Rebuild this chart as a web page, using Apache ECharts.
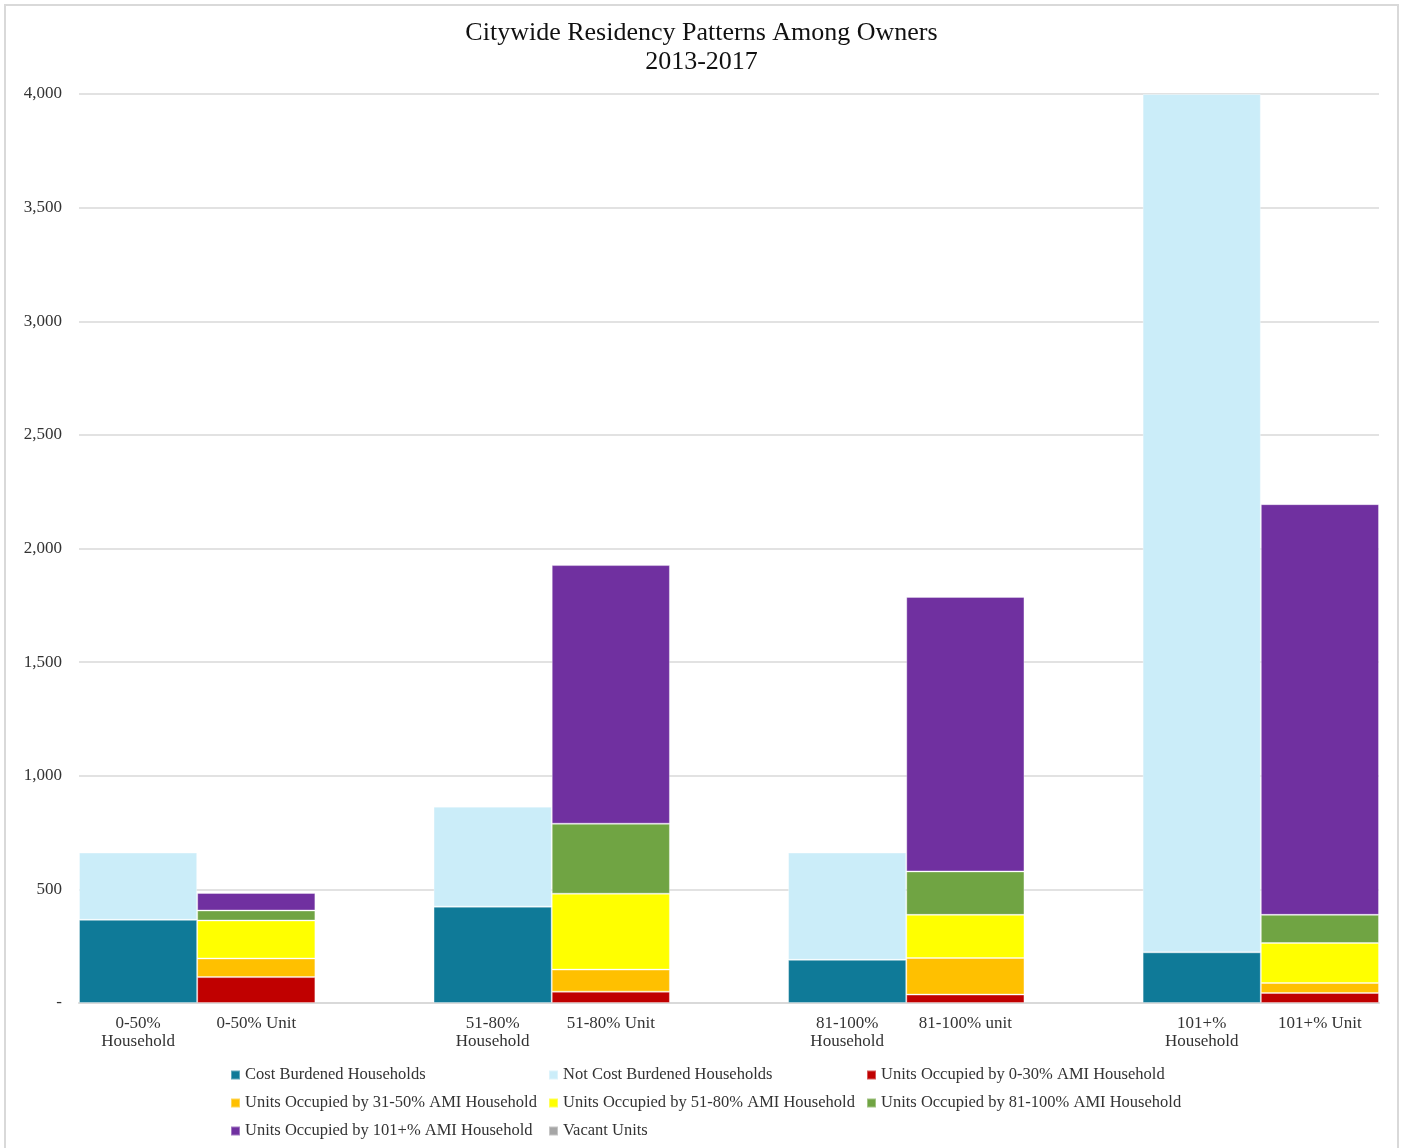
<!DOCTYPE html>
<html>
<head>
<meta charset="utf-8">
<script src="https://cdn.jsdelivr.net/npm/echarts@6/dist/echarts.min.js"></script>
<style>
  html, body { margin: 0; padding: 0; background: #fff; }
  #chart { width: 1403px; height: 1148px; }
</style>
</head>
<body>
<div id="chart"></div>
<script>
// groups along the x axis (each has a Household bar and a Unit bar)
const groups = ['0-50%', '51-80%', '81-100%', '101+%'];
const householdLabels = ['0-50%\nHousehold', '51-80%\nHousehold', '81-100%\nHousehold', '101+%\nHousehold'];
const unitLabels = ['0-50% Unit', '51-80% Unit', '81-100% unit', '101+% Unit'];

// household bars
const costBurdened = [366, 424, 190, 223];
const notCostBurdened = [296, 440, 472, 3777];

// unit bars
const units0to30 = [114, 50, 37, 44];
const units31to50 = [82, 97, 161, 44];
const units51to80 = [167, 334, 190, 176];
const units81to100 = [44, 308, 191, 124];
const units101plus = [77, 1138, 1208, 1807];
const vacantUnits = [0, 0, 0, 0];

const yTicks = [0, 500, 1000, 1500, 2000, 2500, 3000, 3500, 4000];

const FONT = 'Liberation Serif';

// 11 category slots: HH, Unit, gap, HH, Unit, gap, ...
const categories = [];
groups.forEach((g, i) => {
  categories.push(householdLabels[i]);
  categories.push(unitLabels[i]);
  if (i < groups.length - 1) categories.push(' '.repeat(i + 1));
});

function slot(values, isUnit) {
  const out = [];
  groups.forEach((g, i) => {
    out.push(isUnit ? null : values[i]);
    out.push(isUnit ? (values[i] || null) : null);
    if (i < groups.length - 1) out.push(null);
  });
  return out;
}

const seriesDefs = [
  { name: 'Cost Burdened Households', values: costBurdened, unit: false, color: '#0F7A98' },
  { name: 'Not Cost Burdened Households', values: notCostBurdened, unit: false, color: '#CBEDF9' },
  { name: 'Units Occupied by 0-30% AMI Household', values: units0to30, unit: true, color: '#C00000' },
  { name: 'Units Occupied by 31-50% AMI Household', values: units31to50, unit: true, color: '#FFC000' },
  { name: 'Units Occupied by 51-80% AMI Household', values: units51to80, unit: true, color: '#FFFF00' },
  { name: 'Units Occupied by 81-100% AMI Household', values: units81to100, unit: true, color: '#70A443' },
  { name: 'Units Occupied by 101+% AMI Household', values: units101plus, unit: true, color: '#7030A0' },
  { name: 'Vacant Units', values: vacantUnits, unit: true, color: '#A6A6A6' }
];

const chart = echarts.init(document.getElementById('chart'));

const legendText = { color: '#333', fontSize: 16.5, fontFamily: FONT, lineHeight: 18 };
function legendCol(left, names) {
  return {
    orient: 'vertical',
    left: left,
    top: 1066,
    padding: 0,
    itemWidth: 9,
    itemHeight: 9,
    itemGap: 10,
    icon: 'rect',
    textStyle: legendText,
    data: names
  };
}

const option = {
  backgroundColor: '#fff',
  animation: false,
  title: {
    text: 'Citywide Residency Patterns Among Owners\n2013-2017',
    left: 'center',
    top: 14,
    textStyle: { fontFamily: FONT, fontSize: 26, fontWeight: 'normal', color: '#111', lineHeight: 29 }
  },
  graphic: [{
    type: 'rect',
    shape: { x: 5, y: 5, width: 1393, height: 1160 },
    style: { fill: 'none', stroke: '#d9d9d9', lineWidth: 2 },
    silent: true
  }],
  legend: [
    legendCol(230, [seriesDefs[0].name, seriesDefs[3].name, seriesDefs[6].name]),
    legendCol(548, [seriesDefs[1].name, seriesDefs[4].name, seriesDefs[7].name]),
    legendCol(866, [seriesDefs[2].name, seriesDefs[5].name])
  ],
  grid: { left: 79, right: 24, top: 94, bottom: 145, containLabel: false },
  xAxis: {
    type: 'category',
    data: categories,
    axisLine: { lineStyle: { color: '#d9d9d9', width: 2 } },
    axisTick: { show: false },
    axisLabel: {
      interval: 0,
      color: '#333',
      fontSize: 17,
      fontFamily: FONT,
      lineHeight: 18,
      margin: 12
    }
  },
  yAxis: {
    type: 'value',
    min: yTicks[0],
    max: yTicks[yTicks.length - 1],
    interval: 500,
    axisLine: { show: false },
    axisTick: { show: false },
    splitLine: { lineStyle: { color: '#d9d9d9', width: 1.5 } },
    axisLabel: {
      color: '#333',
      fontSize: 17,
      fontFamily: FONT,
      margin: 17,
      formatter: v => v === 0 ? '-' : v.toLocaleString('en-US')
    }
  },
  series: seriesDefs.map(s => ({
    name: s.name,
    type: 'bar',
    stack: 'total',
    barCategoryGap: '0%',
    data: slot(s.values, s.unit),
    itemStyle: {
      color: s.color,
      borderColor: 'rgba(255,255,255,0.35)',
      borderWidth: 1
    }
  }))
};

chart.setOption(option);
</script>
</body>
</html>
